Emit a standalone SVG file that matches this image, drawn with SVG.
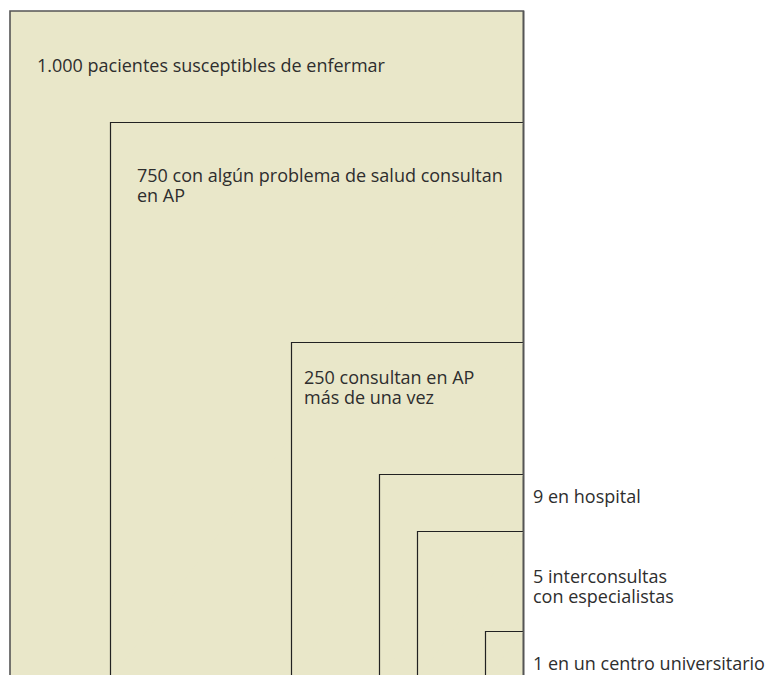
<svg xmlns="http://www.w3.org/2000/svg" width="768" height="675" viewBox="0 0 768 675">
<style>
.box{fill:#e9e7c9;stroke:#222;stroke-width:1.2}
.outer{fill:#e9e7c9;stroke:#555;stroke-width:1.6}
.edge{fill:none;stroke:#555;stroke-width:1.6}
text{font-family:"Open Sans","Noto Sans",sans-serif;font-size:18px;fill:#2e2e2e}
</style>
<rect width="768" height="675" fill="#fff"/>
<g id="n1000">
<path class="outer" d="M10,680 V11 H523.5 V680"/>
<text x="37" y="72">1.000 pacientes susceptibles de enfermar</text>
</g>
<g id="n750">
<path class="box" d="M110.5,680 V122.5 H523.5"/>
<text x="137" y="182">750 con algún problema de salud consultan<tspan x="137" dy="20">en AP</tspan></text>
</g>
<g id="n250">
<path class="box" d="M291.5,680 V342.5 H523.5"/>
<text x="304" y="384">250 consultan en AP<tspan x="304" dy="20">más de una vez</tspan></text>
</g>
<g id="n9">
<path class="box" d="M379.5,680 V474.5 H523.5"/>
<text x="533" y="503">9 en hospital</text>
</g>
<g id="n5">
<path class="box" d="M417.5,680 V531.5 H523.5"/>
<text x="533" y="583">5 interconsultas<tspan x="533" dy="20">con especialistas</tspan></text>
</g>
<g id="n1">
<path class="box" d="M485.5,680 V631.5 H523.5"/>
<text x="533" y="670">1 en un centro universitario</text>
</g>
<g id="connectors">
<path class="edge" d="M523.5,11 V680"/>
</g>
</svg>
